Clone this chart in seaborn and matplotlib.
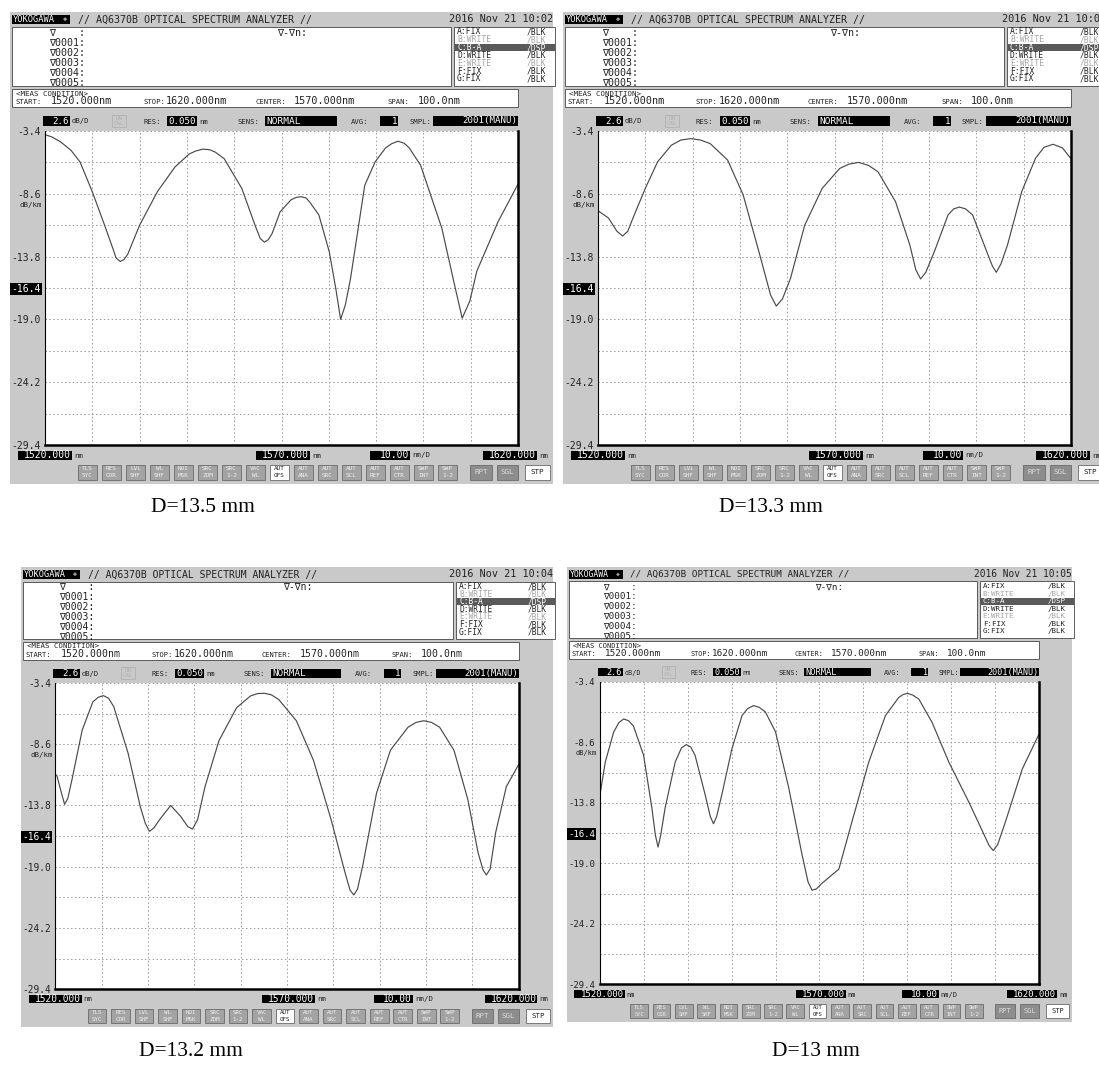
import numpy as np
import matplotlib
matplotlib.use('Agg')
import matplotlib.pyplot as plt
from matplotlib.patches import Rectangle
import seaborn as sns

# spectra (nm, dB/km)
wl_135 = [1520.0, 1521.5, 1523.3, 1525.5, 1527.4, 1530.0, 1532.6, 1534.5, 1535.0, 1535.9,
          1536.7, 1537.5, 1540.0, 1543.8, 1547.5, 1550.5, 1551.9, 1553.4, 1554.8, 1556.0,
          1557.9, 1561.6, 1564.5, 1565.5, 1566.4, 1567.2, 1568.0, 1569.7, 1572.0, 1573.1,
          1574.2, 1575.2, 1576.0, 1577.9, 1580.1, 1581.5, 1582.5, 1583.5, 1584.6, 1587.6,
          1589.8, 1592.0, 1593.3, 1594.6, 1595.9, 1597.0, 1599.4, 1603.9, 1606.5, 1608.2,
          1609.8, 1611.3, 1615.8, 1620.0]
loss_135 = [-3.7, -3.9, -4.3, -5.0, -5.96, -8.43, -11.2, -13.3, -13.9, -14.2,
            -14.05, -13.6, -11.2, -8.4, -6.37, -5.3, -5.05, -4.9, -4.95, -5.15,
            -5.7, -8.15, -11.3, -12.3, -12.6, -12.4, -11.9, -10.1, -9.1, -8.9,
            -8.84, -8.95, -9.3, -10.35, -13.4, -16.5, -19.0, -17.8, -15.6, -7.9,
            -5.95, -4.8, -4.45, -4.25, -4.4, -4.8, -6.23, -11.45, -16.0, -18.9,
            -17.5, -15.0, -10.9, -7.8]

wl_133 = [1520.0, 1522.2, 1524.0, 1525.2, 1526.3, 1527.4, 1530.0, 1532.6, 1535.5, 1537.5,
          1539.6, 1541.7, 1543.7, 1547.4, 1550.7, 1554.0, 1556.5, 1557.7, 1559.0, 1560.7,
          1563.7, 1567.4, 1571.1, 1573.0, 1575.1, 1577.2, 1579.2, 1582.9, 1585.9, 1587.2,
          1588.2, 1589.3, 1591.1, 1594.0, 1595.2, 1596.4, 1597.7, 1599.2, 1602.2, 1603.4,
          1604.2, 1605.2, 1606.6, 1609.6, 1612.5, 1614.3, 1616.2, 1618.2, 1620.0]
loss_133 = [-10.0, -10.6, -11.7, -12.1, -11.7, -10.6, -8.15, -5.95, -4.58, -4.15,
            -4.03, -4.15, -4.44, -5.8, -8.7, -13.37, -17.0, -17.9, -17.3, -15.6,
            -11.2, -8.15, -6.5, -6.15, -6.0, -6.25, -6.78, -9.25, -12.8, -14.9,
            -15.65, -15.1, -13.4, -10.35, -9.85, -9.7, -9.85, -10.35, -13.4, -14.6,
            -15.1, -14.4, -12.8, -8.4, -5.65, -4.75, -4.5, -4.8, -5.7]

wl_132 = [1520.3, 1521.3, 1522.0, 1522.7, 1523.6, 1525.8, 1528.1, 1529.3, 1530.4, 1531.5,
          1532.6, 1535.7, 1538.3, 1539.4, 1540.3, 1541.3, 1542.5, 1544.9, 1547.0, 1548.6,
          1549.6, 1550.7, 1552.3, 1555.3, 1559.1, 1562.1, 1563.6, 1565.1, 1566.6, 1568.2,
          1572.0, 1575.7, 1579.5, 1582.5, 1583.6, 1584.4, 1585.2, 1586.3, 1589.3, 1592.3,
          1596.1, 1597.8, 1599.5, 1601.2, 1602.9, 1606.0, 1609.0, 1611.2, 1612.3, 1613.0,
          1613.8, 1615.0, 1617.3, 1620.0]
loss_132 = [-11.2, -12.7, -13.7, -13.2, -11.6, -7.4, -5.0, -4.6, -4.47, -4.7,
            -5.4, -9.35, -13.85, -15.3, -16.0, -15.7, -15.0, -13.8, -14.7, -15.6,
            -15.8, -15.0, -12.2, -8.3, -5.5, -4.5, -4.3, -4.27, -4.4, -4.8,
            -6.6, -9.97, -15.0, -19.5, -21.0, -21.4, -20.9, -18.95, -12.75, -9.1,
            -7.15, -6.75, -6.6, -6.75, -7.15, -9.1, -13.3, -17.8, -19.3, -19.7,
            -19.2, -16.1, -12.2, -10.3]

wl_130 = [1520.1, 1521.3, 1523.2, 1524.4, 1525.5, 1526.6, 1527.7, 1530.0, 1531.9, 1532.7,
          1533.3, 1533.9, 1534.9, 1537.2, 1538.6, 1539.7, 1540.7, 1541.7, 1544.0, 1545.2,
          1545.9, 1546.6, 1547.8, 1550.1, 1552.4, 1553.7, 1555.0, 1556.3, 1557.7, 1560.0,
          1563.0, 1566.0, 1567.4, 1568.3, 1569.3, 1570.6, 1574.4, 1577.4, 1581.2, 1585.0,
          1588.0, 1589.0, 1590.0, 1591.2, 1592.6, 1595.6, 1599.4, 1603.9, 1607.0, 1608.6,
          1609.5, 1610.5, 1612.3, 1616.1, 1619.9]
loss_130 = [-13.1, -10.3, -7.74, -6.9, -6.6, -6.75, -7.2, -9.7, -14.25, -16.6,
            -17.6, -16.6, -14.25, -10.3, -9.1, -8.8, -9.0, -9.7, -13.1, -15.0,
            -15.6, -15.0, -13.1, -9.15, -6.3, -5.7, -5.45, -5.6, -6.0, -7.7,
            -12.5, -18.2, -20.6, -21.3, -21.2, -20.7, -19.5, -15.4, -10.3, -6.3,
            -4.76, -4.5, -4.4, -4.55, -4.9, -6.9, -10.3, -13.7, -16.2, -17.5,
            -17.9, -17.4, -15.4, -10.9, -7.9]

captions = ['D=13.5 mm', 'D=13.3 mm', 'D=13.2 mm', 'D=13 mm']
clocks = ['10:02', '10:03', '10:04', '10:05']
y_ticks = [-3.4 - 2.6 * i for i in range(11)]
y_labels = ['-3.4', '', '-8.6', '', '-13.8', '-16.4', '-19.0', '', '-24.2', '', '-29.4']
traces = [('A:FIX', '/BLK'), ('B:WRITE', '/BLK'), ('C:B-A', '/DSP'), ('D:WRITE', '/BLK'),
          ('E:WRITE', '/BLK'), ('F:FIX', '/BLK'), ('G:FIX', '/BLK')]
buttons = [('TLS', 'SYC'), ('RES', 'COR'), ('LVL', 'SHF'), ('WL', 'SHF'), ('NOI', 'MSK'),
           ('SRC', 'ZOM'), ('SRC', '1-2'), ('VAC', 'WL'), ('AUT', 'OFS'), ('AUT', 'ANA'),
           ('AUT', 'SRC'), ('AUT', 'SCL'), ('AUT', 'REF'), ('AUT', 'CTR'), ('SWP', 'INT'),
           ('SWP', '1-2')]

W, H = 1099, 1066
MONO = 'DejaVu Sans Mono'
sns.set_style('white')
plt.rcParams['font.family'] = ['DejaVu Sans']

fig = plt.figure(figsize=(W / 100, H / 100), dpi=100)
fig.patch.set_facecolor('white')


def draw_screen(ox, oy, sx, sy, wl, loss, clock):
    X = lambda u: ox + u * sx
    Y = lambda v: oy + v * sy

    def box(u0, v0, u1, v1, fc, ec='none', lw=0.6, z=-4):
        fig.patches.append(Rectangle((X(u0) / W, 1 - Y(v1) / H), (u1 - u0) * sx / W,
                                     (v1 - v0) * sy / H, transform=fig.transFigure,
                                     facecolor=fc, edgecolor=ec, linewidth=lw, zorder=z))

    def txt(u, v, s, size=6.5, color='#222', ha='left', va='center'):
        fig.text(X(u) / W, 1 - Y(v) / H, s, fontsize=size * sx, color=color, ha=ha, va=va,
                 family=MONO, linespacing=0.9)

    # grey screen + title bar
    box(0, 0, 543, 472, '#c9c9c9', z=-6)
    box(2, 3, 60, 12, 'black')
    txt(3, 7.5, 'YOKOGAWA', 6.3, 'white')
    txt(53, 7.5, '◆', 5, '#999')
    txt(68, 7.5, '// AQ6370B OPTICAL SPECTRUM ANALYZER //', 7.2)
    txt(543, 7.5, '2016 Nov 21 ' + clock, 7.4, ha='right')

    # marker box
    box(2, 15, 441, 74, 'white', ec='#444')
    for i, m in enumerate(['∇    :', '∇0001:', '∇0002:', '∇0003:', '∇0004:', '∇0005:']):
        txt(39, 20.5 + 10.2 * i, m, 7.2)
    txt(267, 20.5, '∇-∇n:', 7.2)

    # trace list
    box(444, 15, 545, 74, 'white', ec='#444')
    for i, (a, b) in enumerate(traces):
        v = 20 + 7.8 * i
        col = '#222'
        if a.startswith('B') or a.startswith('E'):
            col = '#a5a5a5'
        if a.startswith('C'):
            box(445, v - 3.6, 545, v + 3.6, '#5a5a5a', z=-3)
            col = 'white'
        txt(447, v, a, 5.8, col)
        txt(517, v, b, 5.8, col)

    # measurement condition
    box(2, 77, 508, 95, 'white', ec='#444')
    txt(6, 81.5, '<MEAS CONDITION>', 5.4)
    for u, lab, uv, val in [(5, 'START:', 41, '1520.000nm'), (133, 'STOP:', 156, '1620.000nm'),
                            (245, 'CENTER:', 284, '1570.000nm'), (378, 'SPAN:', 408, '100.0nm')]:
        txt(u, 90.5, lab, 5.2)
        txt(uv, 89.5, val, 7.3)

    # settings row
    for u0, u1, val in [(33, 60, '2.6'), (157, 187, '0.050'), (255, 327, 'NORMAL'),
                        (370, 388, '1'), (423, 508, '2001(MANU)')]:
        box(u0, 104.5, u1, 113.5, 'black')
        if val == 'NORMAL':
            txt(u0 + 1, 109, val, 6.8, 'white')
        else:
            txt(u1 - 1, 109, val, 6.6, 'white', ha='right')
    box(102, 103, 116, 115, 'none', ec='#b0b0b0')
    txt(109, 109, 'UN\nCAL', 4.2, '#b0b0b0', ha='center')
    for u, lab in [(62, 'dB/D'), (133, 'RES:'), (189, 'nm'), (227, 'SENS:'), (341, 'AVG:'),
                   (399, 'SMPL:')]:
        txt(u, 109.5, lab, 5.2)

    # x labels under the trace
    for u0, u1, val, unit in [(8, 62, '1520.000', 'nm'), (246, 300, '1570.000', 'nm'),
                              (360, 400, '10.00', 'nm/D'), (473, 527, '1620.000', 'nm')]:
        box(u0, 438.5, u1, 447.5, 'black')
        txt(u1 - 1, 443, val, 7, 'white', ha='right')
        txt(u1 + 2, 443.5, unit, 5.4)

    # soft keys
    for i, (a, b) in enumerate(buttons):
        u0 = 68 + 24 * i
        fc, tc = '#a3a3a3', '#f0f0f0'
        if a == 'AUT' and b == 'OFS':
            fc, tc = 'white', '#222'
        box(u0, 453, u0 + 19, 468, fc, ec='#6a6a6a')
        txt(u0 + 9.5, 457, a, 4.3, tc, ha='center')
        txt(u0 + 9.5, 464, b, 4.3, tc, ha='center')
    for u0, u1, lab, fc, tc in [(460, 482, 'RPT', '#8d8d8d', '#dddddd'),
                                (487, 508, 'SGL', '#8d8d8d', '#dddddd'),
                                (515, 540, 'STP', 'white', '#222')]:
        box(u0, 453, u1, 468, fc, ec='#6a6a6a')
        txt((u0 + u1) / 2, 460.5, lab, 5.4, tc, ha='center')

    # the trace itself
    ax = fig.add_axes([X(35) / W, 1 - Y(433) / H, 473 * sx / W, 314 * sy / H])
    ax.set_facecolor('white')
    sns.lineplot(x=wl, y=loss, ax=ax, color='#4a4a4a', linewidth=0.85)
    ax.set_xlim(1520, 1620)
    ax.set_ylim(-29.4, -3.4)
    ax.set_xticks(np.arange(1520, 1621, 10))
    ax.set_xticklabels([])
    ax.set_yticks(y_ticks)
    ax.set_yticklabels(y_labels, family=MONO, fontsize=7 * sx, color='#222')
    ax.tick_params(length=0, pad=3)
    for lbl in ax.get_yticklabels():
        if lbl.get_text() == '-16.4':
            lbl.set_color('white')
            lbl.set_bbox(dict(facecolor='black', edgecolor='none', pad=0.8))
    ax.text(-0.006, -9.5, 'dB/km', transform=ax.get_yaxis_transform(), ha='right',
            va='center', family=MONO, fontsize=5.4 * sx, color='#222')
    ax.grid(True, color='#9a9a9a', linestyle=(0, (1.5, 2.5)), linewidth=0.7)
    ax.set_axisbelow(True)
    ax.spines['top'].set_visible(False)
    ax.spines['left'].set_linewidth(0.8)
    ax.spines['right'].set_linewidth(1.8)
    ax.spines['bottom'].set_linewidth(1.8)
    for s in ax.spines.values():
        s.set_color('black')
    return ax


draw_screen(10, 12, 1.0, 1.0, wl_135, loss_135, clocks[0])
draw_screen(563, 12, 1.0, 1.0, wl_133, loss_133, clocks[1])
draw_screen(21, 567, 0.98, 0.975, wl_132, loss_132, clocks[2])
draw_screen(567, 567, 0.93, 0.964, wl_130, loss_130, clocks[3])

for (cx, cy), cap in zip([(203, 507), (771, 507), (191, 1051), (816, 1051)], captions):
    fig.text(cx / W, 1 - cy / H, cap, family='Liberation Serif', fontsize=15.5,
             ha='center', va='center', color='black')

fig.savefig('out.png', dpi=100, facecolor='white')
